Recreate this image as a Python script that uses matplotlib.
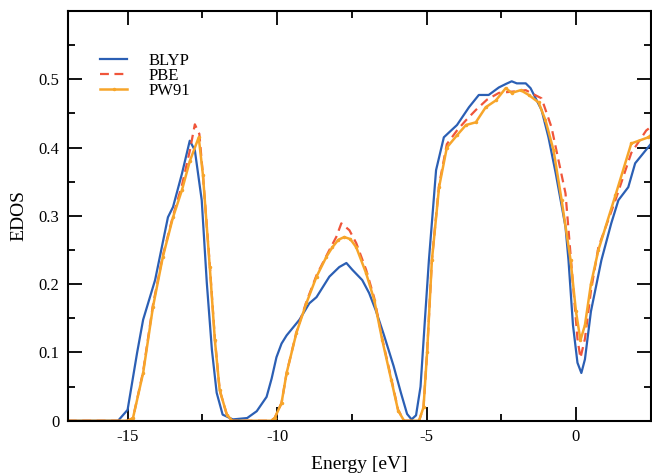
import matplotlib
matplotlib.use("Agg")
import matplotlib.pyplot as plt
from matplotlib.ticker import MultipleLocator

# ------------------- Dados -------------------
e_blyp = [-17.0, -15.5, -15.32, -15.0, -14.68, -14.48, -14.08, -13.65, -13.48, -13.18,
          -12.92, -12.75, -12.52, -12.35, -12.18, -12.02, -11.82, -11.48, -11.0, -10.68,
          -10.35, -10.18, -10.02, -9.85, -9.68, -9.25, -8.92, -8.68, -8.25, -7.92, -7.68,
          -7.48, -7.15, -6.92, -6.7, -6.42, -6.1, -5.85, -5.65, -5.5, -5.35,
          -5.2, -5.05, -4.92, -4.68, -4.42, -4.25, -3.98, -3.58, -3.25, -2.92,
          -2.58, -2.35, -2.15, -1.98, -1.68, -1.52, -1.15, -0.92, -0.68, -0.35,
          -0.25, -0.1, 0.05, 0.18, 0.3, 0.5, 0.85, 1.18, 1.42, 1.75, 1.98, 2.5]
d_blyp = [0.0, 0.0, 0.0, 0.016, 0.10, 0.148, 0.206, 0.298, 0.313, 0.362,
          0.41, 0.396, 0.323, 0.202, 0.104, 0.041, 0.009, 0.002, 0.004, 0.014,
          0.035, 0.062, 0.093, 0.113, 0.125, 0.148, 0.172, 0.181, 0.211, 0.225, 0.231,
          0.221, 0.206, 0.187, 0.162, 0.125, 0.08, 0.04, 0.01, 0.002, 0.008,
          0.05, 0.15, 0.235, 0.367, 0.415, 0.422, 0.433, 0.459, 0.477, 0.477,
          0.488, 0.493, 0.497, 0.494, 0.494, 0.487, 0.455, 0.415, 0.363, 0.284,
          0.235, 0.14, 0.085, 0.07, 0.09, 0.16, 0.235, 0.289, 0.323, 0.342, 0.377, 0.405]

e_pbe = [-17.0, -15.0, -14.82, -14.48, -14.15, -13.82, -13.48, -13.18, -12.92, -12.75,
         -12.6, -12.48, -12.25, -12.08, -11.92, -11.68, -11.5, -10.2, -10.08, -9.85,
         -9.68, -9.35, -9.02, -8.68, -8.25, -8.02, -7.85, -7.58, -7.35, -7.02,
         -6.75, -6.48, -6.18, -5.95, -5.75, -5.25, -5.1, -4.98, -4.82, -4.58,
         -4.32, -3.98, -3.68, -3.35, -2.98, -2.58, -2.1, -1.68, -1.15, -0.82,
         -0.35, -0.1, 0.05, 0.15, 0.3, 0.5, 0.75, 1.32, 1.85, 2.35, 2.5]
d_pbe = [0.0, 0.0, 0.004, 0.072, 0.17, 0.242, 0.30, 0.345, 0.395, 0.434,
         0.42, 0.36, 0.228, 0.12, 0.045, 0.009, 0.0, 0.0, 0.004, 0.026,
         0.07, 0.13, 0.174, 0.213, 0.25, 0.269, 0.289, 0.279, 0.26, 0.221,
         0.18, 0.12, 0.062, 0.016, 0.0, 0.0, 0.02, 0.1, 0.235, 0.345,
         0.405, 0.425, 0.44, 0.455, 0.47, 0.48, 0.482, 0.484, 0.472, 0.43,
         0.333, 0.2, 0.12, 0.092, 0.12, 0.19, 0.254, 0.323, 0.392, 0.425, 0.43]

e_pw91 = [-17.0, -15.0, -14.82, -14.48, -14.15, -13.82, -13.48, -13.18, -12.92, -12.62,
          -12.48, -12.25, -12.08, -11.92, -11.68, -11.5, -10.2, -10.08, -9.85, -9.68,
          -9.35, -9.02, -8.68, -8.35, -8.15, -7.95, -7.75, -7.55, -7.35, -7.02,
          -6.75, -6.48, -6.18, -5.95, -5.75, -5.25, -5.1, -4.98, -4.82, -4.58,
          -4.32, -3.98, -3.68, -3.35, -3.02, -2.68, -2.35, -2.15, -1.85, -1.58,
          -1.25, -1.02, -0.75, -0.48, -0.18, 0.0, 0.15, 0.3, 0.5, 0.75,
          1.32, 1.85, 2.42, 2.5]
d_pw91 = [0.0, 0.0, 0.004, 0.07, 0.167, 0.24, 0.298, 0.338, 0.38, 0.415,
          0.36, 0.225, 0.118, 0.045, 0.009, 0.0, 0.0, 0.004, 0.026, 0.07,
          0.129, 0.172, 0.211, 0.24, 0.254, 0.265, 0.269, 0.266, 0.254, 0.216,
          0.177, 0.118, 0.06, 0.015, 0.0, 0.0, 0.02, 0.1, 0.235, 0.342,
          0.40, 0.418, 0.433, 0.437, 0.459, 0.469, 0.487, 0.48, 0.484, 0.477,
          0.466, 0.44, 0.396, 0.323, 0.235, 0.16, 0.118, 0.14, 0.2, 0.25,
          0.33, 0.406, 0.415, 0.418]

# ------------------- Figura -------------------
plt.rcParams["font.family"] = ["Liberation Serif", "DejaVu Serif"]
plt.rcParams["axes.unicode_minus"] = False

fig = plt.figure(figsize=(6.52, 4.76), dpi=100)
ax = fig.add_axes([0.104, 0.116, 0.894, 0.861])

ax.plot(e_blyp, d_blyp, color="#2b5fb4", lw=1.6, label="BLYP")
ax.plot(e_pbe, d_pbe, color="#f0553a", lw=1.6, ls=(0, (4, 2.5)), label="PBE")
ax.plot(e_pw91, d_pw91, color="#f7a52a", lw=1.8, marker="o", ms=1.5, label="PW91")

ax.set_xlim(-17, 2.5)
ax.set_ylim(0, 0.6)
ax.xaxis.set_major_locator(MultipleLocator(5))
ax.xaxis.set_minor_locator(MultipleLocator(2.5))
ax.set_yticks([0, 0.1, 0.2, 0.3, 0.4, 0.5])
ax.set_yticklabels(["0", "0.1", "0.2", "0.3", "0.4", "0.5"])
ax.yaxis.set_minor_locator(MultipleLocator(0.05))
ax.tick_params(which="both", direction="in", top=True, right=True, labelsize=12, width=1.3)
ax.tick_params(which="major", length=10, pad=6)
ax.tick_params(which="minor", length=5)
for s in ax.spines.values():
    s.set_linewidth(1.5)

ax.set_xlabel("Energy [eV]", fontsize=14, labelpad=8)
ax.set_ylabel("EDOS", fontsize=14, labelpad=8)

ax.legend(loc="upper left", bbox_to_anchor=(0.03, 0.935), frameon=False, fontsize=12,
          handlelength=1.6, handletextpad=1.3, labelspacing=-0.05)

fig.savefig("out.png", dpi=100)
